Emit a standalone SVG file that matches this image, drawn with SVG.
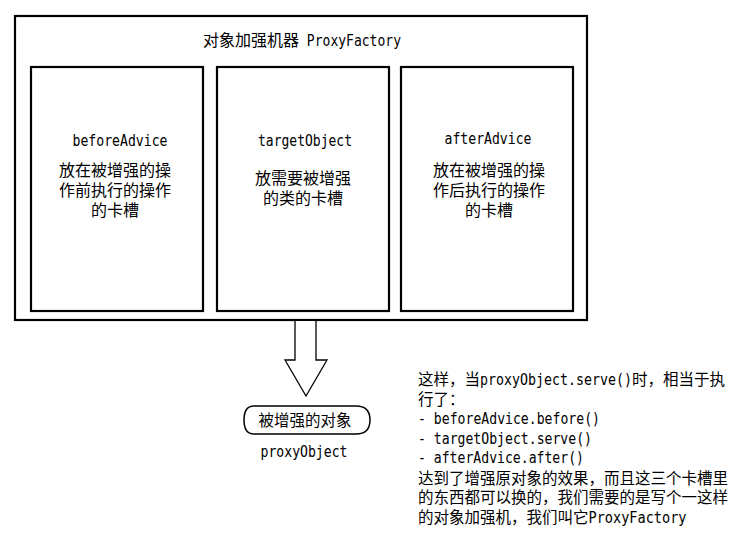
<svg xmlns="http://www.w3.org/2000/svg" width="744" height="537" viewBox="0 0 744 537">
<style>
.bx{fill:#fff;stroke:#000;stroke-width:2.2}
.m{font-family:"DejaVu Sans Mono","Liberation Mono",monospace;font-size:15px;fill:#000}
.c{font-family:"Noto Sans CJK SC","Noto Sans",sans-serif;font-size:16px;fill:#000}
.c2{font-family:"Noto Sans CJK SC","Noto Sans",sans-serif;font-size:15.5px}
.mm{font-family:"DejaVu Sans Mono","Liberation Mono",monospace;font-size:15px}
.t{fill:#000}
</style>
<rect width="744" height="537" fill="#fff"/>
<g id="proxyFactory">
<rect class="bx" x="15" y="16" width="572" height="304"/>
<text x="302" y="46" text-anchor="middle" class="t"><tspan class="c">对象加强机器</tspan><tspan class="mm" textLength="102" lengthAdjust="spacingAndGlyphs"> ProxyFactory</tspan></text>
</g>
<g id="beforeAdvice">
<rect class="bx" x="31" y="67" width="172" height="244"/>
<text class="m" x="120" y="146" text-anchor="middle" textLength="95" lengthAdjust="spacingAndGlyphs">beforeAdvice</text>
<text class="c" x="115" y="176" text-anchor="middle">放在被增强的操</text>
<text class="c" x="115" y="196" text-anchor="middle">作前执行的操作</text>
<text class="c" x="115" y="216" text-anchor="middle">的卡槽</text>
</g>
<g id="targetObject">
<rect class="bx" x="217" y="67" width="172" height="244"/>
<text class="m" x="305" y="146" text-anchor="middle" textLength="94" lengthAdjust="spacingAndGlyphs">targetObject</text>
<text class="c" x="303" y="184" text-anchor="middle">放需要被增强</text>
<text class="c" x="303" y="204" text-anchor="middle">的类的卡槽</text>
</g>
<g id="afterAdvice">
<rect class="bx" x="401" y="67" width="172" height="244"/>
<text class="m" x="488" y="144" text-anchor="middle" textLength="87" lengthAdjust="spacingAndGlyphs">afterAdvice</text>
<text class="c" x="489" y="176" text-anchor="middle">放在被增强的操</text>
<text class="c" x="489" y="196" text-anchor="middle">作后执行的操作</text>
<text class="c" x="489" y="216" text-anchor="middle">的卡槽</text>
</g>
<g id="connectors">
<path d="M295,321 L295,360 L285,360 L306,396 L327,360 L316,360 L316,321" fill="#fff" stroke="#000" stroke-width="1.3" stroke-linejoin="miter"/>
</g>
<g id="proxyObject">
<path d="M254,406 L356,406 Q370,406 370,420 Q370,434 356,434 L254,434 Q244,434 244,420 Q244,406 254,406 Z" fill="#fff" stroke="#000" stroke-width="1.5"/>
<text x="305" y="426" text-anchor="middle" class="c2 t">被增强的对象</text>
<text class="m" x="304" y="457" text-anchor="middle" textLength="87" lengthAdjust="spacingAndGlyphs">proxyObject</text>
</g>
<g id="note" class="t">
<text x="418" y="385"><tspan class="c2">这样，当</tspan><tspan class="mm" textLength="152" lengthAdjust="spacingAndGlyphs">proxyObject.serve()</tspan><tspan class="c2">时，相当于执</tspan></text>
<text x="418" y="405"><tspan class="c2">行了：</tspan></text>
<text x="418" y="424" class="m" textLength="182" lengthAdjust="spacingAndGlyphs">- beforeAdvice.before()</text>
<text x="418" y="444" class="m" textLength="174" lengthAdjust="spacingAndGlyphs">- targetObject.serve()</text>
<text x="418" y="463" class="m" textLength="166" lengthAdjust="spacingAndGlyphs">- afterAdvice.after()</text>
<text x="418" y="484"><tspan class="c2">达到了增强原对象的效果，而且这三个卡槽里</tspan></text>
<text x="418" y="503"><tspan class="c2">的东西都可以换的，我们需要的是写个一这样</tspan></text>
<text x="418" y="523"><tspan class="c2">的对象加强机，我们叫它</tspan><tspan class="mm" textLength="98" lengthAdjust="spacingAndGlyphs">ProxyFactory</tspan></text>
</g>
</svg>
